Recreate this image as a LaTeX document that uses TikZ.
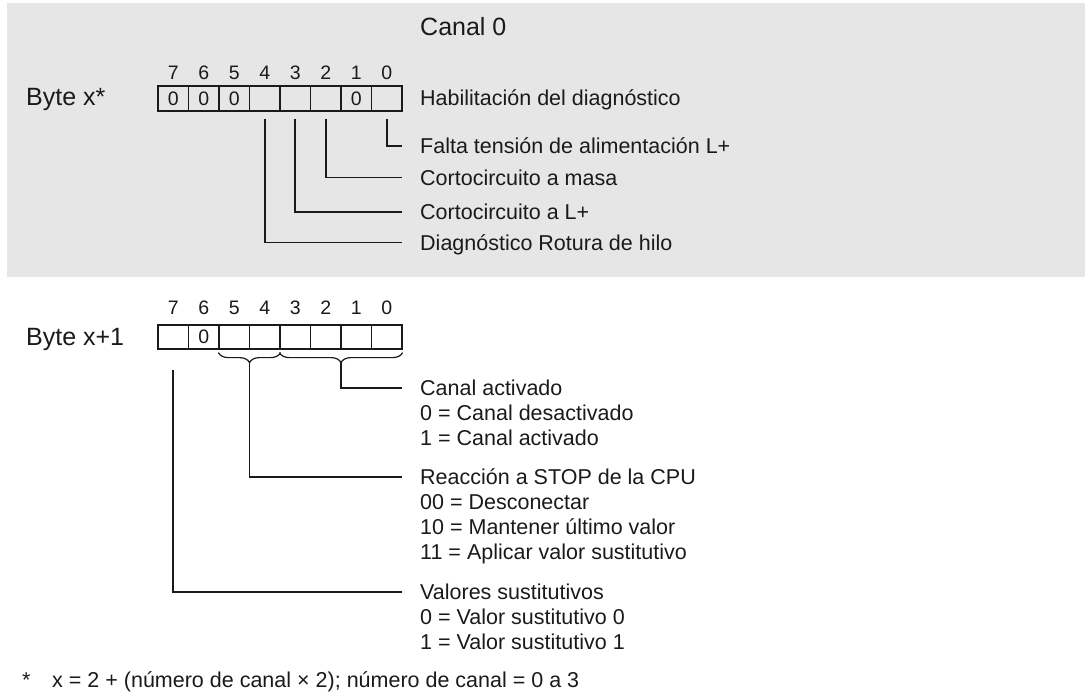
\documentclass[tikz,border=0pt]{standalone}
\usepackage{fontspec}
\setmainfont{Liberation Sans}
\usetikzlibrary{decorations.pathreplacing}
\definecolor{bg}{HTML}{E6E6E6}
\definecolor{ink}{HTML}{1A1A1A}
\begin{document}
\begin{tikzpicture}[x=1pt,y=-1pt,
  lbl/.style={anchor=west,inner sep=0pt,font=\fontsize{21.5}{25}\selectfont,text height=15.4pt,text depth=0pt,text=ink},
  big/.style={anchor=west,inner sep=0pt,font=\fontsize{25}{30}\selectfont,text height=17.9pt,text depth=0pt,text=ink},
  dig/.style={inner sep=0pt,font=\fontsize{19.5}{23}\selectfont,text height=13.9pt,text depth=0pt,text=ink},
  cellA/.style={draw=ink,line width=1.2pt,minimum width=30.5pt,minimum height=25pt,inner sep=0pt,font=\fontsize{19.5}{23}\selectfont,text=ink},
  cellB/.style={cellA,minimum height=24pt},
  conn/.style={draw=ink,line width=1.9pt},
  brc/.style={draw=ink,line width=1.2pt,decorate,decoration={brace,mirror,amplitude=10pt}}
]
\path[use as bounding box] (0,0) rectangle (1085,696);
\fill[bg] (7,3) rectangle (1085,277);

% ---------- Byte x* ----------
\node[big] (canal) at (420,27) {Canal 0};
\node[big] (bytex) at (26,97) {Byte x*};
\foreach \b/\t in {7/0,6/0,5/0,4/{},3/{},2/{},1/0,0/{}}{
  \pgfmathsetmacro{\cx}{173.25+30.5*(7-\b)}
  \node[cellA] (u\b) at (\cx,98.5) {\t};
  \node[dig] (ud\b) at (\cx,73) {\b};
}
\node[lbl] (hab) at (420,98) {Habilitación del diagnóstico};
\node[lbl] (falta) at (420,146) {Falta tensión de alimentación L+};
\node[lbl] (masa) at (420,177.5) {Cortocircuito a masa};
\node[lbl] (lplus) at (420,212) {Cortocircuito a L+};
\node[lbl] (rot) at (420,242.5) {Diagnóstico Rotura de hilo};

\draw[conn] ([yshift=-7pt]u0.south) |- ([xshift=-18pt]falta.west);
\draw[conn] ([yshift=-7pt]u2.south) |- ([xshift=-18pt]masa.west);
\draw[conn] ([yshift=-7pt]u3.south) |- ([xshift=-18pt]lplus.west);
\draw[conn] ([yshift=-7pt]u4.south) |- ([xshift=-18pt]rot.west);

% ---------- Byte x+1 ----------
\node[big] (bytey) at (26,337) {Byte x+1};
\foreach \b/\t in {7/{},6/0,5/{},4/{},3/{},2/{},1/{},0/{}}{
  \pgfmathsetmacro{\cx}{173.25+30.5*(7-\b)}
  \node[cellB] (l\b) at (\cx,337) {\t};
  \node[dig] (ld\b) at (\cx,308) {\b};
}
\draw[brc] ([yshift=-3pt]l5.south west) -- ([yshift=-3pt]l4.south east);
\draw[brc] ([yshift=-3pt]l3.south west) -- ([yshift=-3pt]l0.south east);
\coordinate (t1) at (249.5,362);
\coordinate (t2) at (341,362);

\node[lbl] (cact) at (420,388) {Canal activado};
\node[lbl] (c0) at (420,413) {0 = Canal desactivado};
\node[lbl] (c1) at (420,438) {1 = Canal activado};
\node[lbl] (reac) at (420,477) {Reacción a STOP de la CPU};
\node[lbl] (r0) at (420,502) {00 = Desconectar};
\node[lbl] (r1) at (420,527) {10 = Mantener último valor};
\node[lbl] (r2) at (420,552) {11 = Aplicar valor sustitutivo};
\node[lbl] (valo) at (420,592) {Valores sustitutivos};
\node[lbl] (v0) at (420,617) {0 = Valor sustitutivo 0};
\node[lbl] (v1) at (420,642) {1 = Valor sustitutivo 1};

\draw[conn] (t2) |- ([xshift=-18pt]cact.west);
\draw[conn] (t1) |- ([xshift=-18pt]reac.west);
\draw[conn] ([yshift=-20pt]l7.south) |- ([xshift=-18pt]valo.west);

% ---------- footnote ----------
\node[lbl] (star) at (22,680) {*};
\node[lbl] (foot) at (52,680) {x = 2 + (número de canal × 2); número de canal = 0 a 3};
\end{tikzpicture}
\end{document}
